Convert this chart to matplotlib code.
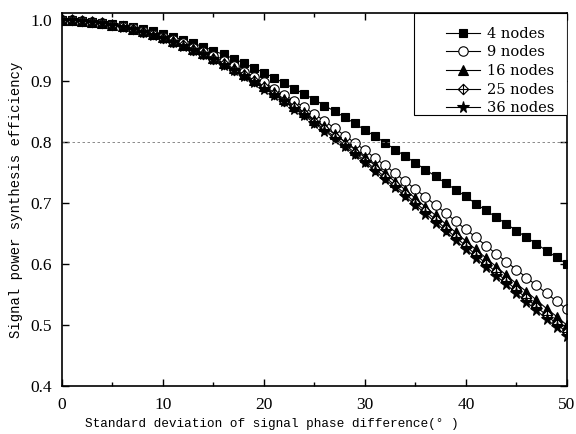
import numpy as np
import matplotlib
matplotlib.use('Agg')
import matplotlib.pyplot as plt
from matplotlib.path import Path
from matplotlib.patches import Rectangle

# x: standard deviation of phase difference, degrees
sigma = list(range(0, 51))

eff_4 = [1.000, 1.000, 0.999, 0.998, 0.996, 0.994, 0.992, 0.989, 0.986, 0.982,
         0.977, 0.973, 0.968, 0.962, 0.957, 0.950, 0.944, 0.937, 0.930, 0.922,
         0.914, 0.906, 0.897, 0.888, 0.879, 0.870, 0.860, 0.851, 0.841, 0.831,
         0.820, 0.810, 0.799, 0.788, 0.777, 0.766, 0.755, 0.744, 0.733, 0.722,
         0.711, 0.699, 0.688, 0.677, 0.666, 0.655, 0.644, 0.633, 0.622, 0.611,
         0.600]
eff_9 = [1.000, 1.000, 0.999, 0.998, 0.996, 0.993, 0.990, 0.987, 0.983, 0.978,
         0.973, 0.968, 0.962, 0.955, 0.948, 0.941, 0.933, 0.925, 0.916, 0.907,
         0.898, 0.888, 0.878, 0.868, 0.857, 0.846, 0.835, 0.823, 0.811, 0.799,
         0.787, 0.774, 0.762, 0.749, 0.736, 0.723, 0.710, 0.697, 0.684, 0.670,
         0.657, 0.644, 0.630, 0.617, 0.604, 0.591, 0.578, 0.565, 0.552, 0.539,
         0.526]
eff_16 = [1.000, 1.000, 0.999, 0.997, 0.995, 0.993, 0.990, 0.986, 0.982, 0.977,
          0.972, 0.966, 0.960, 0.953, 0.946, 0.938, 0.930, 0.921, 0.912, 0.902,
          0.892, 0.882, 0.871, 0.860, 0.849, 0.837, 0.826, 0.813, 0.801, 0.788,
          0.775, 0.762, 0.749, 0.735, 0.722, 0.708, 0.694, 0.680, 0.666, 0.652,
          0.638, 0.624, 0.610, 0.596, 0.582, 0.568, 0.555, 0.541, 0.527, 0.514,
          0.500]
eff_25 = [1.000, 1.000, 0.999, 0.997, 0.995, 0.993, 0.990, 0.986, 0.981, 0.977,
          0.971, 0.965, 0.959, 0.952, 0.944, 0.936, 0.928, 0.919, 0.910, 0.900,
          0.890, 0.879, 0.868, 0.857, 0.846, 0.834, 0.821, 0.809, 0.796, 0.783,
          0.770, 0.756, 0.743, 0.729, 0.715, 0.701, 0.687, 0.673, 0.658, 0.644,
          0.630, 0.615, 0.601, 0.587, 0.572, 0.558, 0.544, 0.530, 0.516, 0.502,
          0.488]
eff_36 = [1.000, 1.000, 0.999, 0.997, 0.995, 0.993, 0.989, 0.986, 0.981, 0.976,
          0.971, 0.965, 0.958, 0.951, 0.944, 0.936, 0.927, 0.918, 0.909, 0.899,
          0.888, 0.878, 0.867, 0.855, 0.844, 0.831, 0.819, 0.806, 0.793, 0.780,
          0.767, 0.753, 0.739, 0.726, 0.711, 0.697, 0.683, 0.668, 0.654, 0.639,
          0.625, 0.610, 0.596, 0.581, 0.567, 0.552, 0.538, 0.524, 0.510, 0.496,
          0.482]
labels = ['4 nodes', '9 nodes', '16 nodes', '25 nodes', '36 nodes']

# diamond with a cross inside
diamond_cross = Path(
    [(0, 1), (1, 0), (0, -1), (-1, 0), (0, 1), (0, 1), (0, -1), (-1, 0), (1, 0)],
    [Path.MOVETO, Path.LINETO, Path.LINETO, Path.LINETO, Path.CLOSEPOLY,
     Path.MOVETO, Path.LINETO, Path.MOVETO, Path.LINETO])

styles = [
    dict(marker='s', mfc='black', ms=6.2),
    dict(marker='o', mfc='white', ms=6.8),
    dict(marker='^', mfc='black', ms=7),
    dict(marker=diamond_cross, mfc='white', ms=7.5),
    dict(marker='*', mfc='black', ms=8.5),
]

fig = plt.figure(figsize=(5.76, 4.34), dpi=100)
ax = fig.add_axes([0.1076, 0.1106, 0.8764, 0.8594])

series = [eff_4, eff_9, eff_16, eff_25, eff_36]
for y, lab, st in zip(series, labels, styles):
    ax.plot(sigma, y, color='black', lw=0.8, mec='black', mew=0.8, label=lab, **st)

ax.axhline(0.8, color='#777777', lw=0.6, ls=(0, (3, 3)))

ax.set_xlim(0, 50)
ax.set_ylim(0.4, 1.012)
ax.set_xticks([0, 10, 20, 30, 40, 50])
ax.set_xticks([5, 15, 25, 35, 45], minor=True)
ax.set_yticks([0.4, 0.5, 0.6, 0.7, 0.8, 0.9, 1.0])
ax.set_yticklabels(['0.4', '0.5', '0.6', '0.7', '0.8', '0.9', '1.0'])
ax.tick_params(which='both', direction='in', top=True, right=True, width=1)
ax.tick_params(which='major', length=5, labelsize=12.5)
ax.tick_params(axis='x', which='major', pad=8)
ax.tick_params(axis='y', which='major', pad=7)
ax.tick_params(which='minor', length=3)
for t in ax.get_xticklabels() + ax.get_yticklabels():
    t.set_fontfamily('Liberation Serif')
for s in ax.spines.values():
    s.set_linewidth(1.2)

ax.set_xlabel('Standard deviation of signal phase difference(° )',
              family='Liberation Mono', fontsize=9.2)
ax.xaxis.set_label_coords(0.416, -0.086)
ax.set_ylabel('Signal power synthesis efficiency',
              family='Liberation Mono', fontsize=10)
ax.yaxis.set_label_coords(-0.078, 0.5)

# legend box drawn by hand so the padding can follow the original
ax.add_patch(Rectangle((0.697, 0.7265), 0.303, 0.2735, transform=ax.transAxes,
                       facecolor='white', edgecolor='black', lw=0.8, zorder=5))
leg = ax.legend(loc='upper right', bbox_to_anchor=(0.976, 0.963), frameon=False,
                handlelength=2.3, labelspacing=0.32, borderpad=0, borderaxespad=0,
                handletextpad=0.5,
                prop={'family': 'DejaVu Serif', 'size': 10.5})
leg.set_zorder(6)

fig.savefig('out.png', dpi=100)
